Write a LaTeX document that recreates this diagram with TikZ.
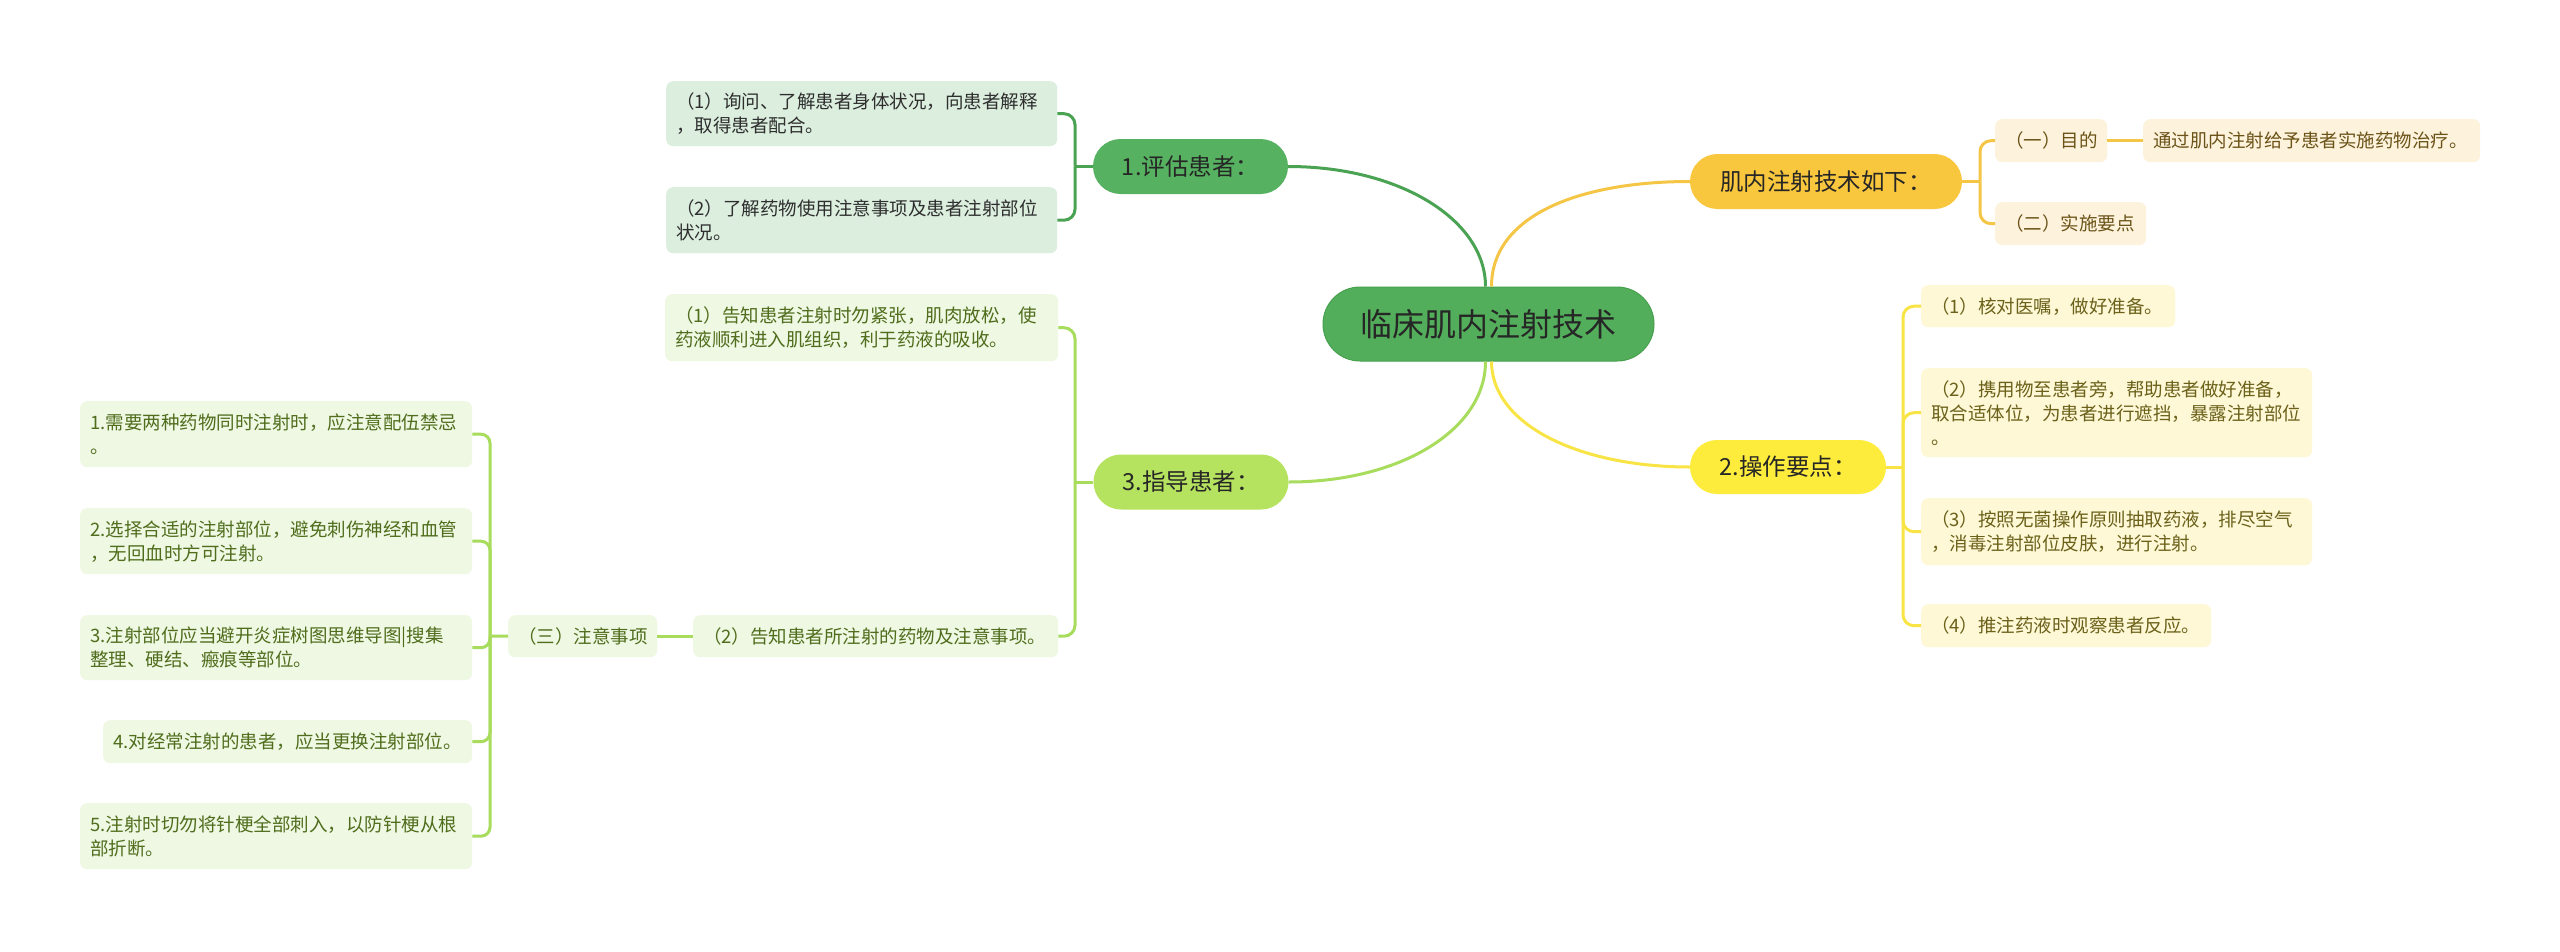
\documentclass[tikz,border=0pt]{standalone}
\usepackage{fontspec}
\setmainfont{Noto Sans CJK SC}
\definecolor{cMain}{HTML}{53AE5B}
\definecolor{cMainB}{HTML}{46A04E}
\definecolor{cN1}{HTML}{56B160}
\definecolor{cN3}{HTML}{B6E35F}
\definecolor{cNO}{HTML}{F9C73D}
\definecolor{cN2}{HTML}{FDEC3C}
\definecolor{lG}{HTML}{4AA352}
\definecolor{lL}{HTML}{A8DC5C}
\definecolor{lO}{HTML}{F5C646}
\definecolor{lY}{HTML}{F8E545}
\definecolor{fA}{HTML}{DCEFDF}
\definecolor{fB}{HTML}{EFF8E3}
\definecolor{fD}{HTML}{FEF8D6}
\definecolor{fE}{HTML}{FDF3DC}
\definecolor{tA}{HTML}{2E2E2E}
\definecolor{tB}{HTML}{4F6D1C}
\definecolor{tD}{HTML}{6B611A}
\definecolor{tE}{HTML}{6B5318}
\newcommand\bx[7]{%
  \pgfmathsetmacro\bw{#5-#3}\pgfmathsetmacro\bh{#6-#4}\pgfmathsetmacro\btw{#5-#3-20}%
  \node[box,#2,minimum width=\bw pt,minimum height=\bh pt,text width=\btw pt] (#1) at (#3,#4) {#7};}
\begin{document}
\begin{tikzpicture}[x=1pt,y=-1pt,
  box/.style={rounded corners=7pt,inner xsep=10pt,inner ysep=0pt,align=left,anchor=north west,
    font=\fontsize{18.5}{24}\selectfont},
  bA/.style={fill=fA,text=tA},
  bB/.style={fill=fB,text=tB},
  bD/.style={fill=fD,text=tD},
  bE/.style={fill=fE,text=tE},
  pill/.style={inner sep=0pt,align=center,text=black!85,font=\fontsize{23.5}{28}\selectfont,
    minimum width=195pt,minimum height=55pt,rounded corners=27.5pt},
  ln/.style={line width=3pt},
  br/.style={line width=3pt,rounded corners=11pt}]
\useasboundingbox (0,0) rectangle (2560,951);
\fill[white] (0,0) rectangle (2560,951);

% main nodes
\node[pill,fill=cMain,draw=cMainB,line width=1pt,minimum width=331pt,minimum height=74pt,
  rounded corners=37pt,font=\fontsize{32}{38}\selectfont] (c) at (1488.5,324) {临床肌内注射技术};
\node[pill,fill=cN1] (n1) at (1190.5,166.5) {1.评估患者：};
\node[pill,fill=cN3] (n3) at (1191,482) {3.指导患者：};
\node[pill,fill=cNO,minimum width=272pt] (no) at (1826,181.5) {肌内注射技术如下：};
\node[pill,fill=cN2,minimum width=196pt,minimum height=54pt,rounded corners=27pt] (n2) at (1788,467) {2.操作要点：};

% boxes
\bx{a1}{bA}{666}{81}{1057}{146}{（1）询问、了解患者身体状况，向患者解释\\，取得患者配合。}
\bx{a2}{bA}{666}{187}{1057}{253}{（2）了解药物使用注意事项及患者注射部位\\状况。}
\bx{b1}{bB}{665}{294}{1058}{361}{（1）告知患者注射时勿紧张，肌肉放松，使\\药液顺利进入肌组织，利于药液的吸收。}
\bx{b2}{bB}{693}{615}{1058}{657}{（2）告知患者所注射的药物及注意事项。}
\bx{zy}{bB}{508}{615}{657}{657}{（三）注意事项}
\bx{c1}{bB}{80}{401}{472}{467}{1.需要两种药物同时注射时，应注意配伍禁忌\\。}
\bx{c2}{bB}{80}{508}{472}{574}{2.选择合适的注射部位，避免刺伤神经和血管\\，无回血时方可注射。}
\bx{c3}{bB}{80}{615}{472}{680}{3.注射部位应当避开炎症树图思维导图|搜集\\整理、硬结、瘢痕等部位。}
\bx{c4}{bB}{103}{720}{472}{763}{4.对经常注射的患者，应当更换注射部位。}
\bx{c5}{bB}{80}{803}{472}{869}{5.注射时切勿将针梗全部刺入，以防针梗从根\\部折断。}
\bx{e1}{bE}{1995}{119}{2107}{162}{（一）目的}
\bx{e2}{bE}{2143}{119}{2480}{162}{通过肌内注射给予患者实施药物治疗。}
\bx{e3}{bE}{1995}{202}{2146}{245}{（二）实施要点}
\bx{d1}{bD}{1921}{285}{2175}{327}{（1）核对医嘱，做好准备。}
\bx{d2}{bD}{1921}{368}{2312}{457}{（2）携用物至患者旁，帮助患者做好准备，\\取合适体位，为患者进行遮挡，暴露注射部位\\。}
\bx{d3}{bD}{1921}{498}{2312}{565}{（3）按照无菌操作原则抽取药液，排尽空气\\，消毒注射部位皮肤，进行注射。}
\bx{d4}{bD}{1921}{604}{2211}{647}{（4）推注药液时观察患者反应。}

% main curves
\draw[ln,lG] ([xshift=-3pt]c.north) .. controls (1485.5,220) and (1400,166.5) .. (n1.east);
\draw[ln,lO] ([xshift=3pt]c.north) .. controls (1491.5,215) and (1580,181.5) .. (no.west);
\draw[ln,lL] ([xshift=-3pt]c.south) .. controls (1485.5,430) and (1400,482) .. (n3.east);
\draw[ln,lY] ([xshift=3pt]c.south) .. controls (1491.5,425) and (1580,467) .. (n2.west);

% bracket junctions
\coordinate (k1) at (1075,166.5);
\coordinate (k3) at (1075,482);
\coordinate (kz) at (490,636);
\coordinate (ko) at (1980,181.5);
\coordinate (k2) at (1903,467);

\draw[ln,lG] (n1.west) -- (k1);
\draw[br,lG] (k1) |- (a1.east);
\draw[br,lG] (k1) |- (a2.east);

\draw[ln,lL] (n3.west) -- (k3);
\draw[br,lL] (k3) |- (b1.east);
\draw[br,lL] (k3) |- (b2.east);
\draw[ln,lL] (b2.west) -- (zy.east);
\draw[ln,lL] (zy.west) -- (kz);
\draw[br,lL,rounded corners=9pt] (kz) |- (c1.east);
\draw[br,lL,rounded corners=9pt] (kz) |- (c2.east);
\draw[br,lL,rounded corners=9pt] (kz) |- (c3.east);
\draw[br,lL,rounded corners=9pt] (kz) |- (c4.east);
\draw[br,lL,rounded corners=9pt] (kz) |- (c5.east);

\draw[ln,lO] (no.east) -- (ko);
\draw[br,lO] (ko) |- (e1.west);
\draw[br,lO] (ko) |- (e3.west);
\draw[ln,lO] (e1.east) -- (e2.west);

\draw[ln,lY] (n2.east) -- (k2);
\draw[br,lY] (k2) |- (d1.west);
\draw[br,lY] (k2) |- (d2.west);
\draw[br,lY] (k2) |- (d3.west);
\draw[br,lY] (k2) |- (d4.west);
\end{tikzpicture}
\end{document}
